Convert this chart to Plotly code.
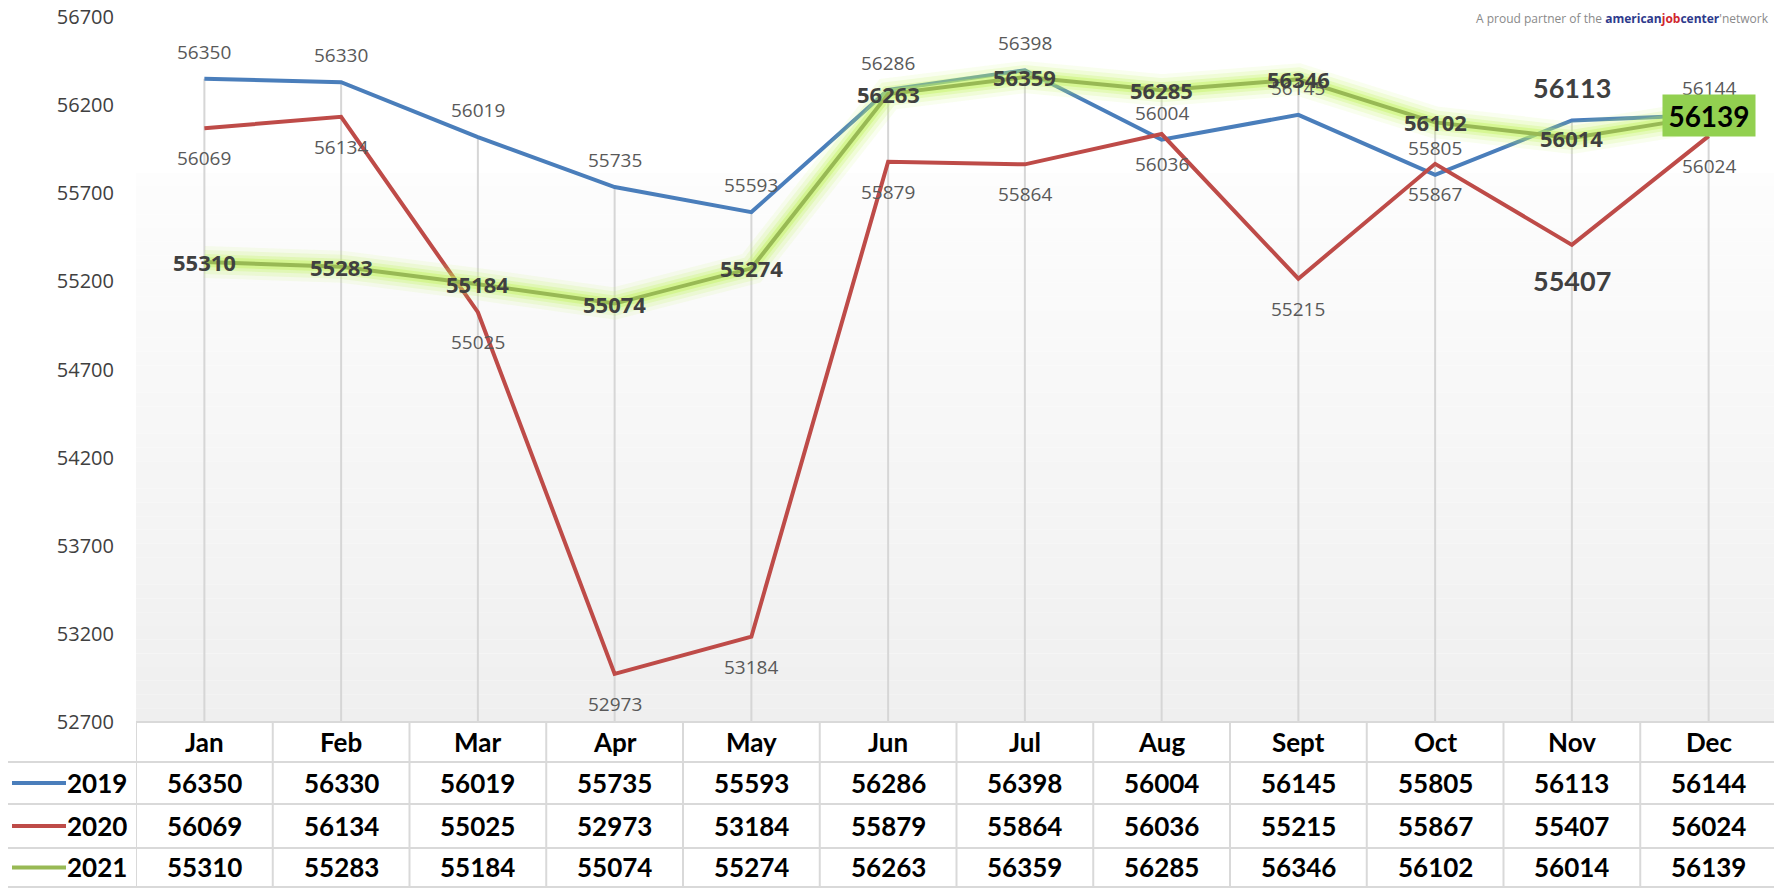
import plotly.graph_objects as go

months = ["Jan", "Feb", "Mar", "Apr", "May", "Jun", "Jul", "Aug", "Sept", "Oct", "Nov", "Dec"]
years = ["2019", "2020", "2021"]
v2019 = [56350, 56330, 56019, 55735, 55593, 56286, 56398, 56004, 56145, 55805, 56113, 56144]
v2020 = [56069, 56134, 55025, 52973, 53184, 55879, 55864, 56036, 55215, 55867, 55407, 56024]
v2021 = [55310, 55283, 55184, 55074, 55274, 56263, 56359, 56285, 56346, 56102, 56014, 56139]
y_ticks = [52700, 53200, 53700, 54200, 54700, 55200, 55700, 56200, 56700]

series = [v2019, v2020, v2021]
colors = ["#4a7ebb", "#be4b48", "#98b954"]

# page body has an 8px margin: work in screen pixels and shift
OFF = 8
SW, SH = 1782, 888
W, H = SW - OFF, SH - OFF
PLOT_L, PLOT_R, PLOT_T, PLOT_B = 136, 1777, 17, 722
L = PLOT_L - OFF
R = W - (PLOT_R - OFF)
T = PLOT_T - OFF
B = H - (PLOT_B - OFF)
PW = PLOT_R - PLOT_L
PH = PLOT_B - PLOT_T


def px_y(p):
    return (PLOT_B - p) / PH


def px_x(p):
    return (p - PLOT_L) / PW


fig = go.Figure()

# background gradient inside plot area
shapes = []
g_top, g_bot = 173, PLOT_B
n = 40
for i in range(n):
    y0 = g_top + (g_bot - g_top) * i / n
    y1 = g_top + (g_bot - g_top) * (i + 1) / n
    c = int(round(253 - (253 - 239) * (i + 0.5) / n))
    shapes.append(dict(type="rect", xref="paper", yref="paper", x0=0, x1=1,
                       y0=px_y(y1), y1=px_y(y0), line=dict(width=0),
                       fillcolor=f"rgb({c},{c},{c})", layer="below"))

# drop lines
dx, dy = [], []
for i, m in enumerate(months):
    top = max(v2019[i], v2020[i], v2021[i])
    dx += [m, m, None]
    dy += [top, y_ticks[0], None]
fig.add_trace(go.Scatter(x=dx, y=dy, mode="lines", line=dict(color="#d6d6d6", width=2),
                         hoverinfo="skip", showlegend=False))

fig.add_trace(go.Scatter(x=months, y=v2019, mode="lines", line=dict(color=colors[0], width=4),
                         name="2019", showlegend=False))
fig.add_trace(go.Scatter(x=months, y=v2020, mode="lines", line=dict(color=colors[1], width=4),
                         name="2020", showlegend=False))
for w, a in [(32, 0.10), (24, 0.16), (16, 0.26), (10, 0.42)]:
    fig.add_trace(go.Scatter(x=months, y=v2021, mode="lines",
                             line=dict(color=f"rgba(195,242,95,{a})", width=w),
                             hoverinfo="skip", showlegend=False))
fig.add_trace(go.Scatter(x=months, y=v2021, mode="lines", line=dict(color=colors[2], width=4),
                         name="2021", showlegend=False))

ann = []
gray_font = dict(family="Open Sans", size=19, color="#595959")
bold_font = dict(family="Open Sans", size=22, color="#404040", weight="bold")
big_font = dict(family="Lato", size=27, color="#404040", weight="bold")

for i, m in enumerate(months):
    # 2019 above
    if m == "Nov":
        ann.append(dict(x=m, y=v2019[i], text=str(v2019[i]), showarrow=False, yshift=33, font=big_font))
    else:
        ann.append(dict(x=m, y=v2019[i], text=str(v2019[i]), showarrow=False, yshift=27, font=gray_font))
    # 2020 below
    if m == "Nov":
        ann.append(dict(x=m, y=v2020[i], text=str(v2020[i]), showarrow=False, yshift=-36, font=big_font))
    else:
        ann.append(dict(x=m, y=v2020[i], text=str(v2020[i]), showarrow=False, yshift=-30, font=gray_font))
    # 2021 centered
    if m == "Dec":
        ann.append(dict(x=m, y=v2021[i], text=str(v2021[i]), showarrow=False,
                        font=dict(family="Lato", size=28, color="#000000", weight="bold"),
                        bgcolor="#92d050", width=88, height=37, borderpad=2))
    else:
        ann.append(dict(x=m, y=v2021[i], text=str(v2021[i]), showarrow=False, font=bold_font))

# data table
tbl_font = dict(family="Lato", size=26, color="#000000", weight="bold")
row_bounds = [722, 762, 804, 848, 887]
header_c = (row_bounds[0] + row_bounds[1]) / 2
for m in months:
    ann.append(dict(x=m, xref="x", y=px_y(header_c), yref="paper", yanchor="middle",
                    text=m, showarrow=False, font=tbl_font))
for r, (yr, vals) in enumerate(zip(years, series)):
    yc = (row_bounds[r + 1] + row_bounds[r + 2]) / 2
    ann.append(dict(x=px_x(129), xref="paper", xanchor="right", y=px_y(yc), yref="paper",
                    yanchor="middle", text=yr, showarrow=False, font=tbl_font))
    shapes.append(dict(type="line", xref="paper", yref="paper", x0=px_x(12), x1=px_x(66),
                       y0=px_y(yc), y1=px_y(yc), line=dict(color=colors[r], width=4)))
    for m, v in zip(months, vals):
        ann.append(dict(x=m, xref="x", y=px_y(yc), yref="paper", yanchor="middle",
                        text=str(v), showarrow=False, font=tbl_font))

bc = "#d9d9d9"
shapes.append(dict(type="line", xref="paper", yref="paper", x0=0, x1=1,
                   y0=px_y(row_bounds[0]), y1=px_y(row_bounds[0]), line=dict(color=bc, width=2)))
for rb in row_bounds[1:]:
    shapes.append(dict(type="line", xref="paper", yref="paper", x0=px_x(5), x1=1,
                       y0=px_y(rb), y1=px_y(rb), line=dict(color=bc, width=2)))
shapes.append(dict(type="line", xref="paper", yref="paper", x0=px_x(5), x1=px_x(5),
                   y0=px_y(row_bounds[1]), y1=px_y(row_bounds[-1]), line=dict(color=bc, width=2)))
for i in range(len(months) + 1):
    shapes.append(dict(type="line", xref="x", yref="paper", x0=i - 0.5, x1=i - 0.5,
                       y0=px_y(row_bounds[0]), y1=px_y(row_bounds[-1]), line=dict(color=bc, width=2)))

# watermark text (top edge of the figure)
ann.append(dict(x=px_x(1771), xref="paper", xanchor="right", y=px_y(OFF), yref="paper",
                yanchor="top", showarrow=False,
                text="A proud partner of the <span style='color:#2e3a8c'><b>american</b></span>"
                     "<span style='color:#d0262d'><b>job</b></span>"
                     "<span style='color:#2e3a8c'><b>center</b></span>'network",
                font=dict(family="Open Sans", size=12, color="#8a8a8a")))

fig.update_layout(
    width=W, height=H,
    margin=dict(l=L, r=R, t=T, b=B, autoexpand=False),
    paper_bgcolor="white", plot_bgcolor="white",
    shapes=shapes, annotations=ann,
    showlegend=False,
    xaxis=dict(type="category", range=[-0.5, 11.5], showticklabels=False, showgrid=False,
               zeroline=False, showline=False, ticks="", automargin=False),
    yaxis=dict(range=[y_ticks[0], y_ticks[-1]], tickvals=y_ticks, ticktext=[str(t) for t in y_ticks],
               showgrid=False, zeroline=False, showline=False, ticks="", automargin=False,
               tickfont=dict(family="Open Sans", size=20, color="#404040"),
               ticklabelstandoff=21, ticklabeloverflow="allow"),
)

fig.write_html("out.html")
